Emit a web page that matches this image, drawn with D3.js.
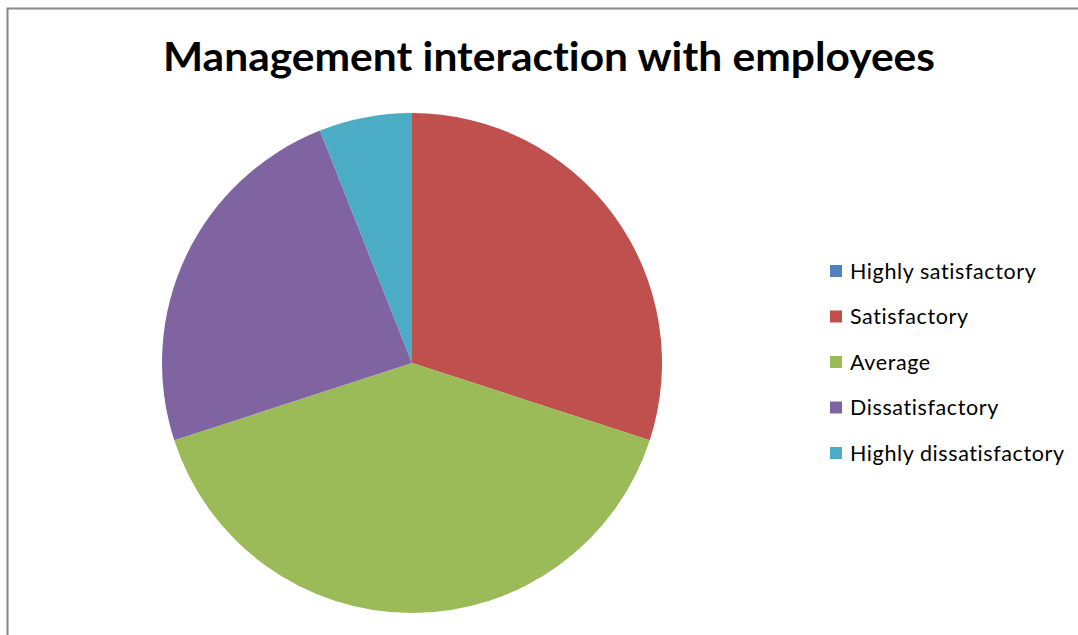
<!DOCTYPE html>
<html>
<head>
<meta charset="utf-8">
<script src="https://cdn.jsdelivr.net/npm/d3@7"></script>
<style>
  html, body { margin: 0; padding: 0; background: #fff; }
  svg { display: block; }
  text { font-variant-ligatures: none; font-feature-settings: "liga" 0, "clig" 0, "dlig" 0, "calt" 0; }
</style>
</head>
<body>
<svg id="chart" width="1078" height="635"></svg>
<script>
// Survey responses: management interaction with employees (percent)
const categories = ["Highly satisfactory", "Satisfactory", "Average", "Dissatisfactory", "Highly dissatisfactory"];
const values = [0, 30, 40, 24, 6];
const colors = ["#4F81BD", "#C0504D", "#9BBB59", "#8064A2", "#4BACC6"];
const title = "Management interaction with employees";

const svg = d3.select("#chart");
const W = 1078, H = 635;
const font = "Lato, 'Open Sans', sans-serif";

// Chart area frame
svg.append("rect")
  .attr("x", 7.5).attr("y", 8.5)
  .attr("width", W + 10).attr("height", H - 9 + 10)
  .attr("fill", "#fff")
  .attr("stroke", "#888")
  .attr("stroke-width", 2);

// Title
svg.append("text")
  .attr("x", 549).attr("y", 71)
  .attr("text-anchor", "middle")
  .attr("font-family", font)
  .attr("font-weight", "bold")
  .attr("font-size", 40)
  .attr("textLength", 772)
  .attr("lengthAdjust", "spacingAndGlyphs")
  .attr("fill", "#000")
  .text(title);

// Pie
const cx = 412, cy = 363, r = 250;
const pie = d3.pie().sort(null).value(d => d)(values);
const arc = d3.arc().innerRadius(0).outerRadius(r);
const color = d3.scaleOrdinal().domain(categories).range(colors);

svg.append("g")
  .attr("transform", `translate(${cx},${cy})`)
  .selectAll("path")
  .data(pie)
  .join("path")
  .attr("d", arc)
  .attr("fill", (d, i) => color(categories[i]));

// Legend
const legendY = d3.scalePoint().domain(categories).range([271, 453]);
const legend = svg.append("g")
  .selectAll("g")
  .data(categories)
  .join("g")
  .attr("transform", d => `translate(830,${legendY(d)})`);

legend.append("rect")
  .attr("x", 0).attr("y", -6)
  .attr("width", 12).attr("height", 12)
  .attr("fill", d => color(d));

legend.append("text")
  .attr("x", 20).attr("y", 7.5)
  .attr("font-family", font)
  .attr("font-size", 21.5)
  .attr("letter-spacing", 0.6)
  .attr("fill", "#000")
  .text(d => d);
</script>
</body>
</html>
